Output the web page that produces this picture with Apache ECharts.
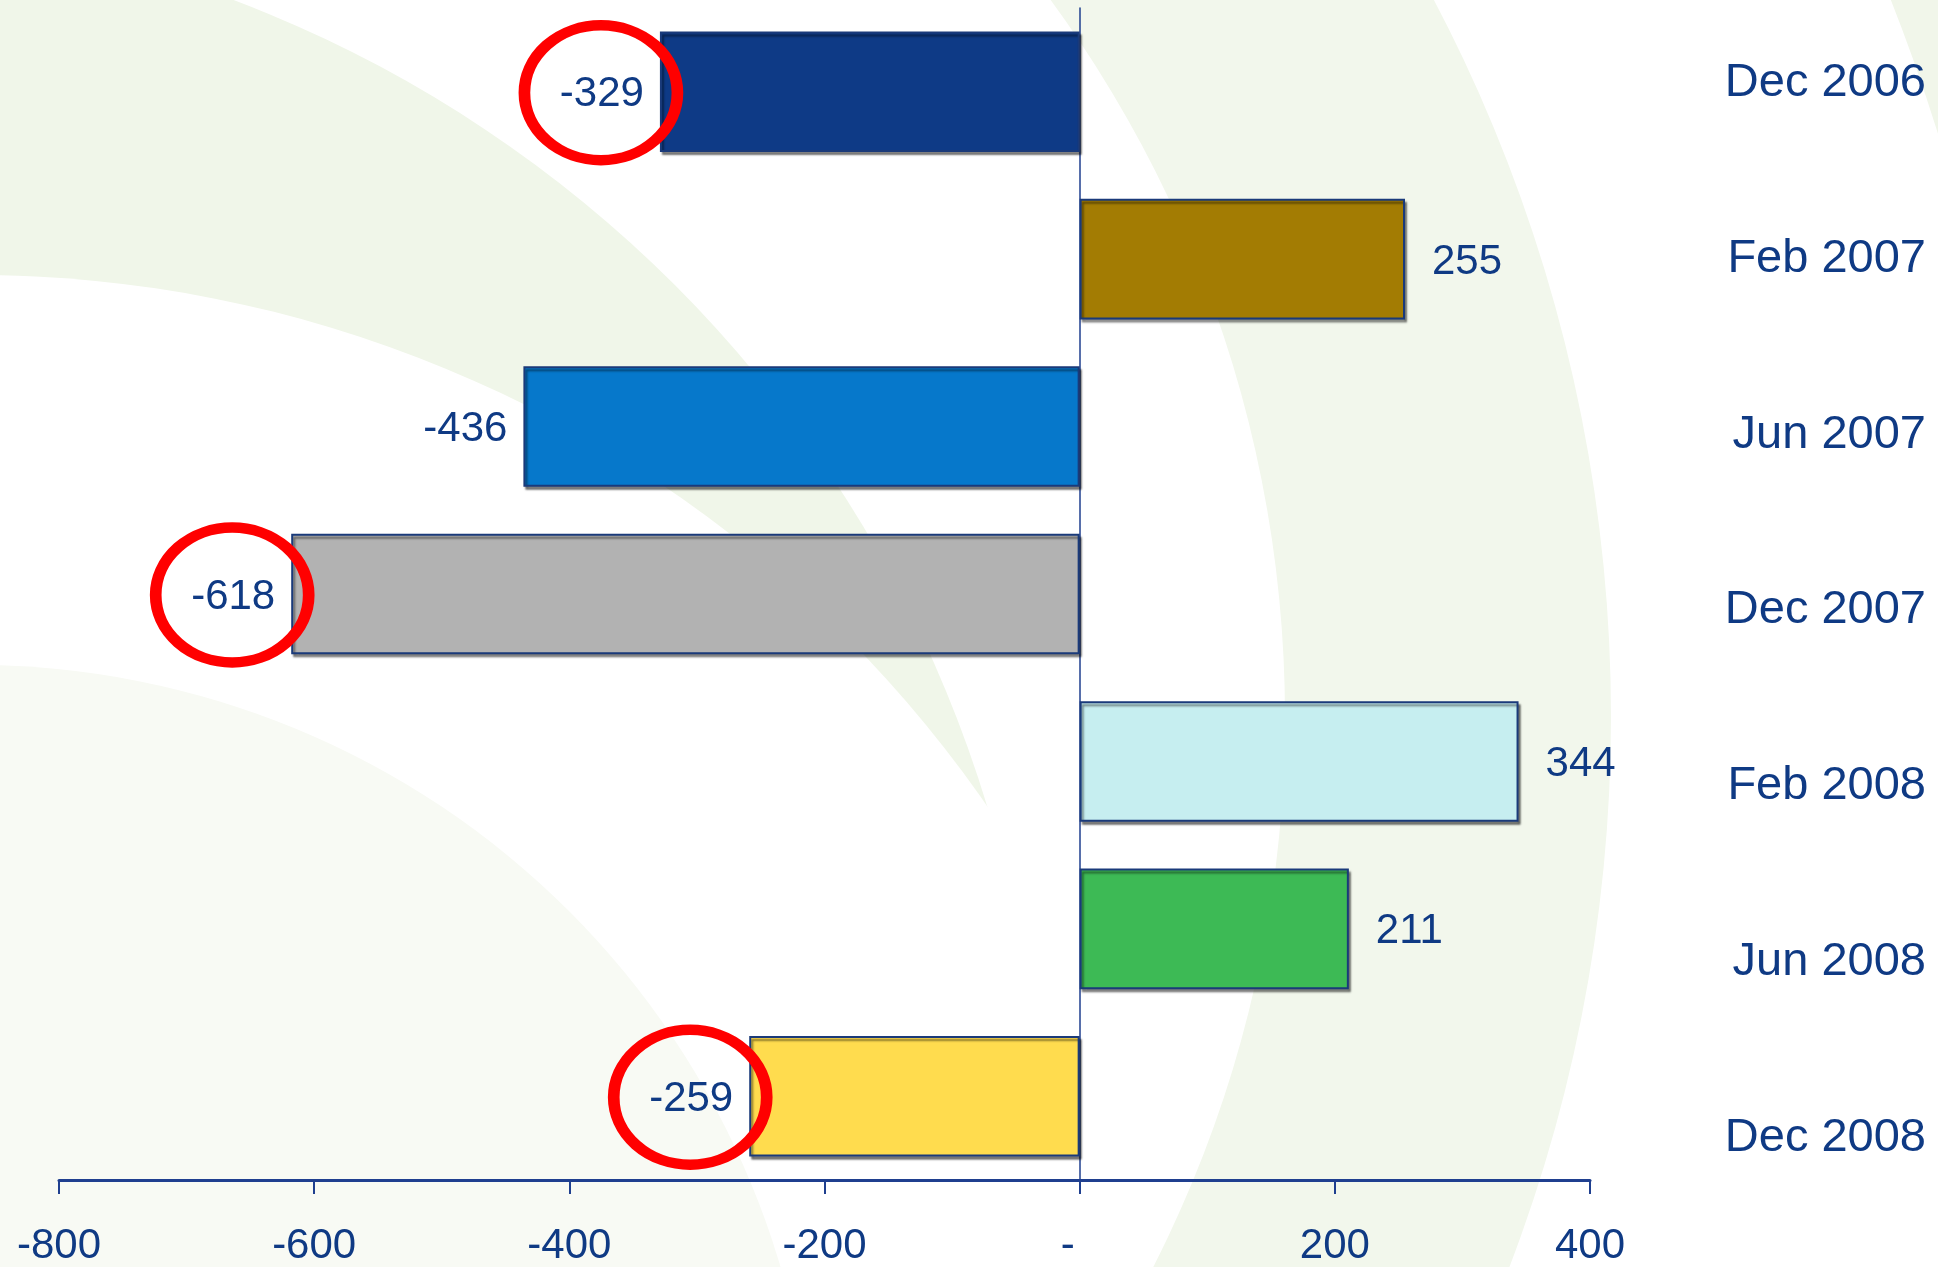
<!DOCTYPE html>
<html>
<head>
<meta charset="utf-8">
<script src="https://cdn.jsdelivr.net/npm/echarts@6/dist/echarts.min.js"></script>
<style>
  html, body { margin: 0; padding: 0; background: #ffffff; }
  #chart { width: 1938px; height: 1267px; }
</style>
</head>
<body>
<div id="chart"></div>
<script>
// data
var categories = ['Dec 2006', 'Feb 2007', 'Jun 2007', 'Dec 2007', 'Feb 2008', 'Jun 2008', 'Dec 2008'];
var values = [-329, 255, -436, -618, 344, 211, -259];
var barColors = ['#0E3A86', '#A37C03', '#0678CB', '#B2B2B2', '#C6EEF0', '#3DBA55', '#FFDC4E'];
var circled = ['Dec 2006', 'Dec 2007', 'Dec 2008'];   // red rings round these labels
var xTicks = [-800, -600, -400, -200, 0, 200, 400];

var navy = '#0F3A84';
var font = 'Liberation Sans, Arial, sans-serif';

var chart = echarts.init(document.getElementById('chart'));

var barData = values.map(function (v, i) {
    return {
        value: v,
        itemStyle: { color: barColors[i] },
        label: { position: v < 0 ? 'left' : 'right', distance: v < 0 ? 16 : 27 }
    };
});

var rings = circled.map(function (name) {
    return { coord: [values[categories.indexOf(name)], name] };
});

// slide background swooshes (decoration only)
function bg(type, shape, fill) {
    return { type: type, silent: true, z: -10, shape: shape, style: { fill: fill } };
}

var option = {
    backgroundColor: '#ffffff',
    graphic: [
        bg('circle', { cx: -209, cy: 1169, r: 1250 }, '#F0F6E9'),
        bg('circle', { cx: -25, cy: 1505, r: 1230 }, '#FFFFFF'),
        bg('circle', { cx: -25, cy: 1505, r: 840 }, '#F8FAF4'),
        bg('ring', { cx: 71, cy: 717, r: 1540, r0: 1214 }, '#F2F7EC'),
        bg('ring', { cx: 71, cy: 717, r: 2700, r0: 1956 }, '#F1F6EA')
    ],
    grid: [
        { left: 59, right: 348, top: 8, bottom: 87 },
        { left: 1926, right: 4, top: 83, bottom: 129 }
    ],
    xAxis: [{
        type: 'value',
        gridIndex: 0,
        min: -800,
        max: 400,
        interval: 200,
        splitLine: { show: false },
        axisLine: { show: true, lineStyle: { color: '#1F3F8F', width: 3 } },
        axisTick: { show: true, length: 14, lineStyle: { color: '#1F3F8F', width: 2 } },
        axisLabel: {
            color: navy, fontFamily: font, fontSize: 42, margin: 45,
            formatter: function (v) { return v === 0 ? '{z|-}' : String(v); },
            rich: { z: { color: navy, fontFamily: font, fontSize: 42, padding: [0, 24, 0, 0] } }
        }
    }, {
        type: 'value',
        gridIndex: 1,
        show: false
    }],
    yAxis: [{
        type: 'category',
        gridIndex: 0,
        data: categories,
        inverse: true,
        axisLine: { show: true, onZero: true, lineStyle: { color: '#1F3F8F', width: 1.5 } },
        axisTick: { show: false },
        axisLabel: { show: false }
    }, {
        type: 'category',
        gridIndex: 1,
        data: categories,
        inverse: true,
        boundaryGap: false,
        position: 'left',
        axisLine: { show: false },
        axisTick: { show: false },
        axisLabel: { color: navy, fontFamily: font, fontSize: 47, margin: 0 }
    }],
    series: [{
        type: 'bar',
        xAxisIndex: 0,
        yAxisIndex: 0,
        barWidth: '72%',
        data: barData,
        itemStyle: {
            borderColor: '#1A3A7A',
            borderWidth: 2,
            shadowColor: 'rgba(0,0,0,0.45)',
            shadowBlur: 2,
            shadowOffsetX: 2,
            shadowOffsetY: 3
        },
        label: {
            show: true,
            offset: [0, 3],
            color: navy,
            fontFamily: font,
            fontSize: 42
        },
        markPoint: {
            symbol: 'circle',
            symbolSize: [153, 135],
            symbolOffset: [-59, 1],
            silent: true,
            label: { show: false },
            itemStyle: { color: 'rgba(0,0,0,0)', borderColor: '#FF0000', borderWidth: 11 },
            data: rings
        }
    }]
};

chart.setOption(option);
</script>
</body>
</html>
